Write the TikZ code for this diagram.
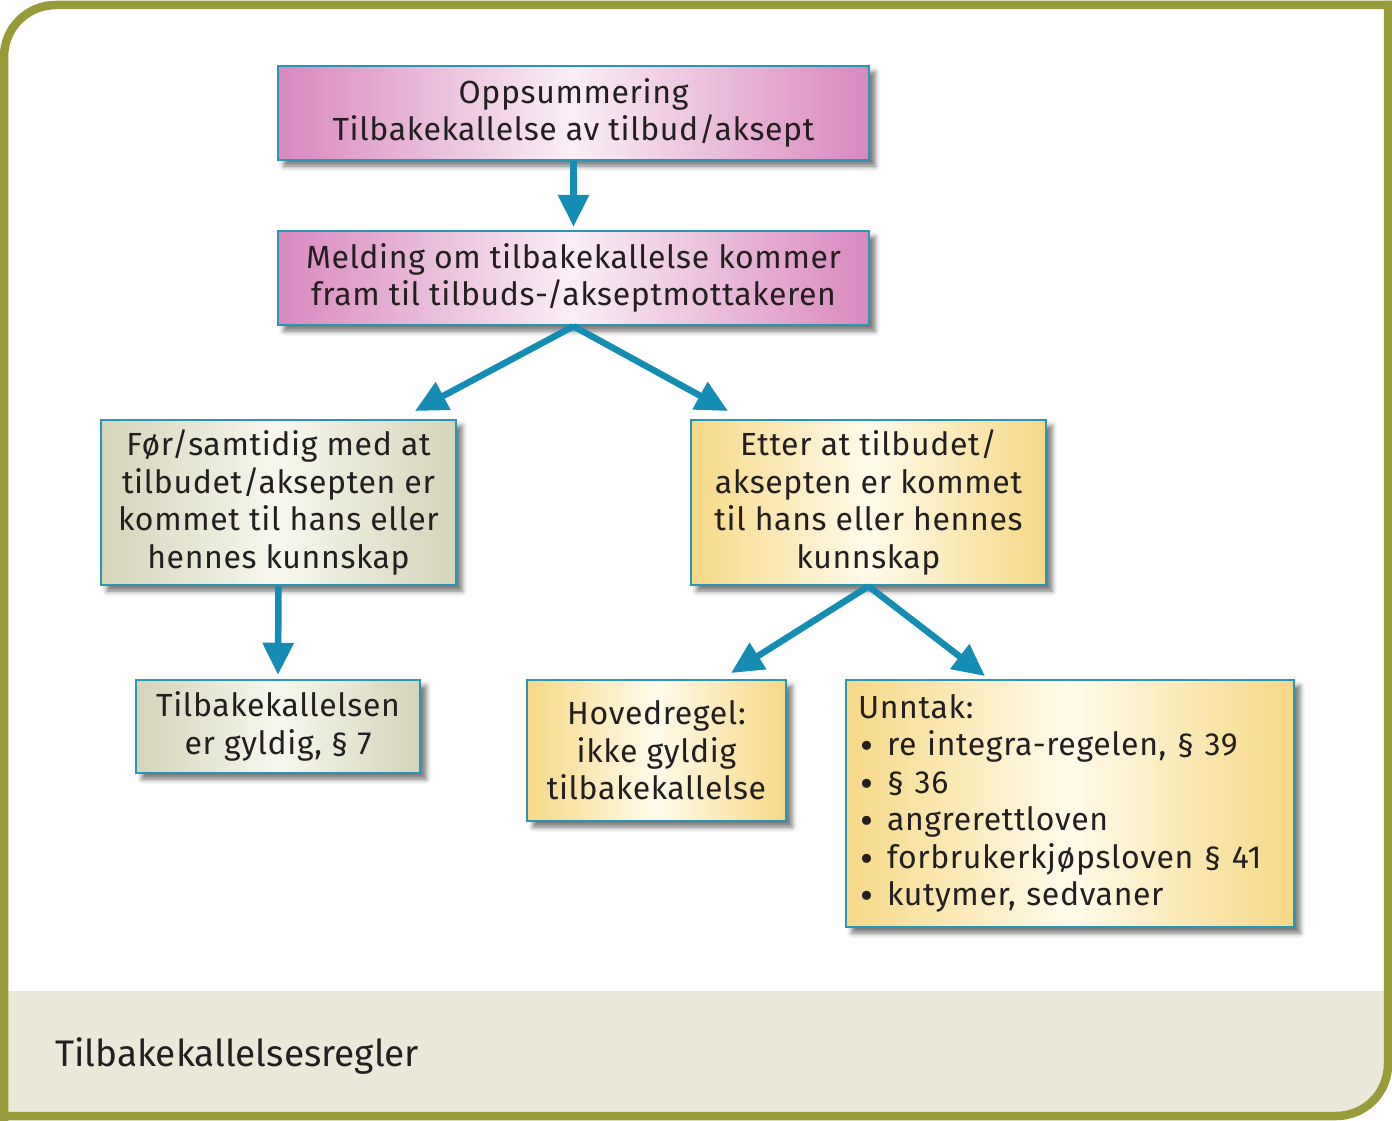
\documentclass[tikz,border=0pt]{standalone}
\usepackage{fontspec}
\setmainfont{Fira Sans}[LetterSpace=2]
\newfontfamily\footfont{Fira Sans}
\usetikzlibrary{arrows.meta,shadows.blur}
\definecolor{olive}{RGB}{152,155,58}
\definecolor{footerbg}{RGB}{235,232,218}
\definecolor{tealc}{RGB}{20,140,180}
\definecolor{tealb}{RGB}{40,150,180}
\definecolor{pinkE}{RGB}{216,136,190}
\definecolor{pinkM}{RGB}{250,238,246}
\definecolor{greenE}{RGB}{212,212,184}
\definecolor{greenM}{RGB}{247,247,238}
\definecolor{yellE}{RGB}{246,216,134}
\definecolor{yellM}{RGB}{255,251,234}
\definecolor{txt}{RGB}{35,31,32}
\newcommand{\bul}{\makebox[29pt][l]{\hspace{2pt}\raisebox{-4pt}[0pt][0pt]{\fontsize{40}{37}\selectfont •}}}
\tikzset{
  box/.style={draw=tealb, line width=2.5pt, inner sep=10pt, align=center,
    text=txt, font=\fontsize{32}{37.4}\selectfont,
    blur shadow={shadow xshift=6pt, shadow yshift=-6pt, shadow blur radius=5pt, shadow opacity=55}},
  pinkbox/.style={box, left color=pinkE, right color=pinkE, middle color=pinkM},
  greenbox/.style={box, left color=greenE, right color=greenE, middle color=greenM},
  yellbox/.style={box, left color=yellE, right color=yellE, middle color=yellM},
  arr/.style={draw=tealc, line width=6.5pt, -{Triangle[width=30pt,length=32pt]}}
}
\begin{document}
\begin{tikzpicture}[x=1pt,y=-1pt]
\useasboundingbox (0,0) rectangle (1392,1121);
% footer band
\fill[footerbg] (4,991) -- (1388,991) -- (1388,1064) .. controls (1388,1093) and (1365,1116) .. (1336,1116) -- (4,1116) -- cycle;
% frame
\draw[olive, line width=8.5pt] (4,1121) -- (4,57) .. controls (4,28) and (27,5) .. (56,5) -- (1392,5);
\draw[olive, line width=8.5pt] (1388,1) -- (1388,1064) .. controls (1388,1093) and (1365,1116) .. (1336,1116) -- (0,1116);
\node[anchor=base west, text=txt, font=\footfont\fontsize{37}{40}\selectfont, inner sep=0pt] (footer) at (55,1066) {Tilbakekallelsesregler};

% boxes
\node[pinkbox, minimum width=591pt, minimum height=94pt] (b1) at (573.5,113) {Oppsummering\\Tilbakekallelse av tilbud/aksept};
\node[pinkbox, minimum width=591pt, minimum height=94pt] (b2) at (573.5,278) {Melding om tilbakekallelse kommer\\fram til tilbuds-/akseptmottakeren};
\node[greenbox, minimum width=355pt, minimum height=165pt] (b3) at (278.5,502.5) {Før/samtidig med at\\tilbudet/aksepten er\\kommet til hans eller\\hennes kunnskap};
\node[yellbox, minimum width=355pt, minimum height=165pt] (b4) at (868.5,502.5) {Etter at tilbudet/\\aksepten er kommet\\til hans eller hennes\\kunnskap};
\node[greenbox, minimum width=284pt, minimum height=93pt] (b5) at (278,726.5) {Tilbakekallelsen\\er gyldig, § 7};
\node[yellbox, minimum width=259pt, minimum height=141pt] (b6) at (656.5,750.5) {Hovedregel:\\ikke gyldig\\tilbakekallelse};
\node[yellbox, minimum width=448pt, minimum height=247pt, align=left, text width=424pt, inner sep=12pt] (b7) at (1070,803.5) {Unntak:\\
\bul re integra-regelen, § 39\\
\bul § 36\\
\bul angrerettloven\\
\bul forbrukerkjøpsloven § 41\\
\bul kutymer, sedvaner};

% arrow tips
\coordinate (t1) at (415,411);
\coordinate (t2) at (728,411);
\coordinate (t3) at (731,673);
\coordinate (t4) at (985,676);

\draw[arr] (b1.south) -- ([yshift=3pt]b2.north);
\draw[arr] (b2.south) -- (t1);
\draw[arr] (b2.south) -- (t2);
\draw[arr] (b3.south) -- ([yshift=4pt]b5.north);
\draw[arr] (b4.south) -- (t3);
\draw[arr] (b4.south) -- (t4);
\end{tikzpicture}
\end{document}
